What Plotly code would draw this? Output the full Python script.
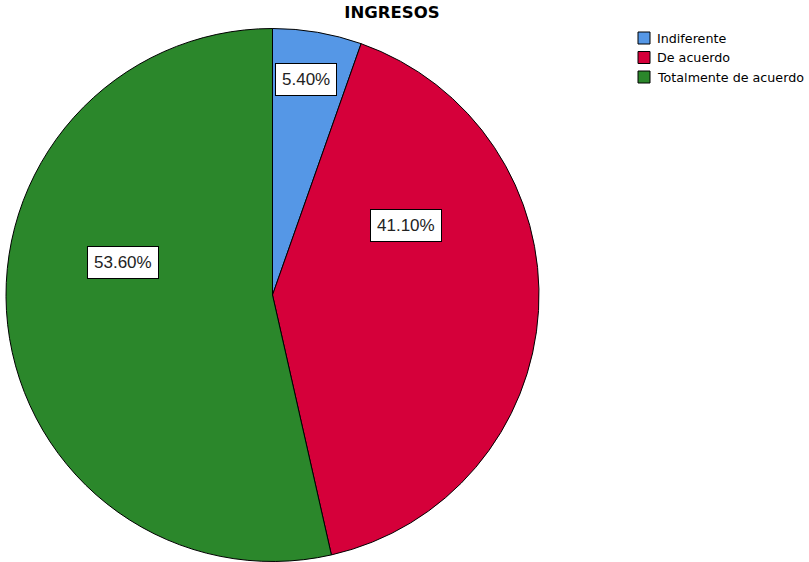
import math
import plotly.graph_objects as go

# ---- data ----
categories = ["Indiferente", "De acuerdo", "Totalmente de acuerdo"]
percent_values = [5.40, 41.10, 53.60]
label_texts = ["5.40%", "41.10%", "53.60%"]
slice_colors = ["#5597E6", "#D5003A", "#2B872B"]
chart_title = "INGRESOS"

# ---- layout constants ----
W, H = 809, 562
pie_left, pie_right = 6, 539
pie_top = 28
# label placement per slice: (radius fraction, angle shift in degrees)
label_place = [(0.815, -0.8), (0.564, -30.7), (0.572, 18.5)]
# legend geometry (pixels)
leg_sq_x0, leg_sq_size = 638, 12
leg_text_x = 655
leg_row0, leg_row_step = 38, 19.5

fig = go.Figure()
fig.add_trace(go.Pie(
    labels=categories,
    values=percent_values,
    sort=False,
    direction="clockwise",
    rotation=0,
    textinfo="none",
    hoverinfo="label+percent",
    marker=dict(colors=slice_colors, line=dict(color="#000000", width=1)),
    domain=dict(x=[pie_left / W, pie_right / W], y=[0, (H - pie_top) / H]),
    showlegend=False,
))

# label boxes computed from slice angles
total = sum(percent_values)
cx = (pie_left + pie_right) / 2
R = min(pie_right - pie_left, H - pie_top) / 2
cy = pie_top + R
cum = 0.0
annotations = []
for v, txt, (rf, shift) in zip(percent_values, label_texts, label_place):
    mid = (cum + v / 2) / total * 360 + shift
    cum += v
    a = math.radians(mid)
    px = cx + rf * R * math.sin(a)
    py = cy - rf * R * math.cos(a)
    annotations.append(dict(
        x=px / W, y=1 - py / H, xref="paper", yref="paper",
        text=txt, showarrow=False,
        font=dict(family="Liberation Sans, Arial, sans-serif", size=17, color="#222222"),
        bgcolor="#FFFFFF", bordercolor="#000000", borderwidth=1, borderpad=6,
        xanchor="center", yanchor="middle",
    ))

# custom legend built from categories / colors
shapes = []
for i, (cat, col) in enumerate(zip(categories, slice_colors)):
    yc = leg_row0 + i * leg_row_step
    shapes.append(dict(
        type="rect", xref="paper", yref="paper",
        x0=leg_sq_x0 / W, x1=(leg_sq_x0 + leg_sq_size) / W,
        y0=1 - (yc + leg_sq_size / 2) / H, y1=1 - (yc - leg_sq_size / 2) / H,
        fillcolor=col, line=dict(color="#000000", width=1),
    ))
    annotations.append(dict(
        x=leg_text_x / W, y=1 - yc / H, xref="paper", yref="paper",
        text=cat, showarrow=False, xanchor="left", yanchor="middle",
        font=dict(family="DejaVu Sans, Verdana, sans-serif", size=12.7, color="#000000"),
    ))

fig.update_layout(
    width=W, height=H,
    margin=dict(l=0, r=0, t=0, b=0, autoexpand=False),
    paper_bgcolor="#FFFFFF",
    plot_bgcolor="#FFFFFF",
    showlegend=False,
    title=dict(text="<b>" + chart_title + "</b>", x=392 / W, xanchor="center",
               y=1 - 12 / H, yanchor="middle", yref="paper",
               font=dict(family="DejaVu Sans, Verdana, sans-serif", size=16.5, color="#000000")),
    shapes=shapes,
    annotations=annotations,
)

fig.write_html("out.html")
